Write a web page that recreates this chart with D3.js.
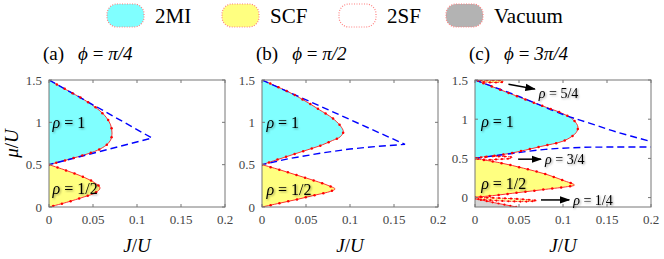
<!DOCTYPE html>
<html>
<head>
<meta charset="utf-8">
<style>
  body { margin: 0; background: #fff; }
</style>
</head>
<body>
<svg id="chart" width="664" height="259"></svg>
<script src="https://cdn.jsdelivr.net/npm/d3@7/dist/d3.min.js"></script>
<script>
// legend entries
const legendNames = ["2MI", "SCF", "2SF", "Vacuum"];
const legendFills = ["#80ffff", "#ffff80", "#ffffff", "#b3b3b3"];

// axes
const xTicks = [0, 0.05, 0.1, 0.15, 0.2];
const yTicks = [0, 0.5, 1, 1.5];
const panelTags = ["(a)", "(b)", "(c)"];
const phiLabels = ["π/4", "π/2", "3π/4"];

// panel (a)  phi = pi/4   points are [J/U, mu/U]
const aMott1 = [[0,1.5],[0.02,1.383],[0.04,1.266],[0.055,1.16],[0.065,1.06],[0.07,0.97],[0.0716,0.875],[0.07,0.79],[0.065,0.73],[0.055,0.67],[0.04,0.615],[0,0.5]];
const aMottHalf = [[0,0.5],[0.02,0.43],[0.04,0.35],[0.052,0.285],[0.058,0.225],[0.053,0.17],[0.04,0.12],[0.02,0.055],[0,0]];
const aMeanField = [[0,1.5],[0.117,0.815],[0,0.5]];

// panel (b)  phi = pi/2
const bMott1 = [[0,1.5],[0.03,1.36],[0.047,1.265],[0.065,1.15],[0.08,1.05],[0.089,0.96],[0.0924,0.89],[0.089,0.83],[0.08,0.785],[0.065,0.72],[0.047,0.66],[0.025,0.585],[0,0.5]];
const bMottHalf = [[0,0.5],[0.02,0.44],[0.04,0.375],[0.06,0.31],[0.075,0.255],[0.083,0.213],[0.078,0.185],[0.06,0.14],[0.04,0.09],[0.02,0.045],[0,0]];
const bMeanField = [[0,1.5],[0.1625,0.74],[0.13,0.715],[0.1,0.685],[0.066,0.635],[0.03,0.57],[0,0.5]];

// panel (c)  phi = 3pi/4
const cMott1 = [[0,1.5],[0.037,1.34],[0.074,1.18],[0.1,1.07],[0.112,0.99],[0.117,0.9],[0.115,0.83],[0.11,0.78],[0.1,0.72],[0.074,0.65],[0.04,0.565],[0,0.5]];
const cMottHalf = [[0,0.5],[0.03,0.44],[0.055,0.375],[0.08,0.3],[0.1,0.22],[0.113,0.16],[0.105,0.14],[0.08,0.105],[0.05,0.065],[0.02,0.025],[0,0.005]];
const cMeanFieldUpper = [[0,1.5],[0.05,1.29],[0.1,1.06],[0.13,0.95],[0.16,0.84],[0.2,0.715]];
const cMeanFieldLower = [[0,0.5],[0.04,0.56],[0.08,0.615],[0.12,0.64],[0.16,0.645],[0.2,0.645]];
const cLobe54 = [[0,1.5],[0.015,1.496],[0.031,1.49],[0.032,1.478],[0.02,1.468],[0.008,1.478],[0,1.5]];
const cLobe34 = [[0,0.5],[0.012,0.522],[0.025,0.526],[0.042,0.513],[0.042,0.505],[0.025,0.488],[0.012,0.482],[0,0.5]];
const cLobe14 = [[0,0.005],[0.03,-0.008],[0.055,-0.022],[0.07,-0.04],[0.06,-0.05],[0.035,-0.045],[0.012,-0.028],[0,-0.015]];
const cVacuum = [[0,-0.015],[0.022,-0.065],[0.047,-0.12]];

// text labels inside the panels: [J, mu, text]
const rhoLabels = [
  [[0.004, 1.0, "1"], [0.004, 0.22, "1/2"]],
  [[0.005, 1.0, "1"], [0.005, 0.21, "1/2"]],
  [[0.007, 0.97, "1"], [0.007, 0.175, "1/2"]]
];
// arrows in panel (c): [J0, mu0, J1, mu1, text]
const cArrows = [
  [0.038, 1.445, 0.068, 1.385, "5/4"],
  [0.049, 0.49, 0.075, 0.49, "3/4"],
  [0.075, -0.03, 0.107, -0.03, "1/4"]
];

const panelLefts = [49, 262, 475];
const panelW = 176, plotTop = 80, plotBottom = 207;
const yDomains = [[0, 1.5], [0, 1.5], [-0.12, 1.5]];
const serif = '"Liberation Serif"';

const svg = d3.select("#chart");
const defs = svg.append("defs");

const shadow = defs.append("filter").attr("id", "shadow")
  .attr("x", "-20%").attr("y", "-40%").attr("width", "140%").attr("height", "180%");
shadow.append("feDropShadow").attr("dx", 1).attr("dy", 1).attr("stdDeviation", 1.2)
  .attr("flood-color", "#000").attr("flood-opacity", 0.4);

defs.append("marker").attr("id", "arrow")
  .attr("viewBox", "0 0 10 10").attr("refX", 9).attr("refY", 5)
  .attr("markerWidth", 7).attr("markerHeight", 7).attr("orient", "auto")
  .append("path").attr("d", "M0,1.5L10,5L0,8.5z").attr("fill", "#000");

// legend
const legend = svg.append("g");
const legendX = [107, 222, 339, 446];
legendNames.forEach((name, i) => {
  legend.append("rect")
    .attr("x", legendX[i]).attr("y", 4).attr("width", 37).attr("height", 23)
    .attr("rx", 10).attr("ry", 10)
    .attr("fill", legendFills[i])
    .attr("stroke", "#ff8080").attr("stroke-width", 1.2)
    .attr("stroke-dasharray", "1,1.5");
  legend.append("text")
    .attr("x", legendX[i] + 48).attr("y", 23)
    .style("font-family", serif).style("font-size", "21px")
    .text(name);
});

const line = d3.line().curve(d3.curveCatmullRom.alpha(0.5));
const straight = d3.line();

function redBoundary(g, d, dashed) {
  const p = g.append("path").attr("d", d)
    .attr("fill", "none").attr("stroke", "#ff3030").attr("stroke-width", 1);
  if (dashed) p.attr("stroke-dasharray", "2,1");
  return p;
}

function dotsAlong(g, pathNode, step, r) {
  const len = pathNode.getTotalLength();
  const pts = d3.range(0, len + 0.5, step).map(l => pathNode.getPointAtLength(Math.min(l, len)));
  g.selectAll(null).data(pts).join("circle")
    .attr("cx", p => p.x).attr("cy", p => p.y).attr("r", r)
    .attr("fill", "#ff0000");
}

function label(parent, size) {
  return parent.append("text").style("font-family", serif).style("font-size", size + "px");
}

panelLefts.forEach((left, i) => {
  const x = d3.scaleLinear().domain([0, 0.2]).range([left, left + panelW]);
  const y = d3.scaleLinear().domain(yDomains[i]).range([plotBottom, plotTop]);
  line.x(d => x(d[0])).y(d => y(d[1]));
  straight.x(d => x(d[0])).y(d => y(d[1]));

  const g = svg.append("g");
  defs.append("clipPath").attr("id", "clip" + i)
    .append("rect").attr("x", left).attr("y", plotTop)
    .attr("width", panelW).attr("height", plotBottom - plotTop);
  const plot = g.append("g").attr("clip-path", `url(#clip${i})`);

  let mott1, half, fieldPaths;
  if (i === 0) { mott1 = aMott1; half = aMottHalf; fieldPaths = [straight(aMeanField)]; }
  if (i === 1) { mott1 = bMott1; half = bMottHalf; fieldPaths = [straight(bMeanField)]; }
  if (i === 2) { mott1 = cMott1; half = cMottHalf; fieldPaths = [line(cMeanFieldUpper), line(cMeanFieldLower)]; }

  // fills
  if (i === 2) {
    plot.append("path")
      .attr("d", straight(cVacuum.concat([[0, -0.12]])) + "Z")
      .attr("fill", "#d6d6d6");
  }
  const mottPath = line(mott1);
  const halfPath = line(half);
  plot.append("path").attr("d", mottPath + "Z").attr("fill", "#80ffff");
  plot.append("path").attr("d", halfPath + "Z").attr("fill", "#ffff80");

  const boundaries = [];
  boundaries.push(redBoundary(plot, mottPath, false));
  boundaries.push(redBoundary(plot, halfPath, false));

  const small = [];
  if (i === 2) {
    plot.append("path").attr("d", line(cLobe54) + "Z").attr("fill", "#ffff80");
    plot.append("path").attr("d", line(cLobe34) + "Z").attr("fill", "#ffffff");
    plot.append("path").attr("d", line(cLobe14) + "Z").attr("fill", "#ffffb0");
    small.push(redBoundary(plot, line(cLobe54), true));
    small.push(redBoundary(plot, line(cLobe34), true));
    small.push(redBoundary(plot, line(cLobe14), true));
    small.push(redBoundary(plot, straight(cVacuum), false));
  }

  // mean-field boundary
  fieldPaths.forEach(d => {
    plot.append("path").attr("d", d)
      .attr("fill", "none").attr("stroke", "#0000ff").attr("stroke-width", 1.4)
      .attr("stroke-dasharray", "7,4");
  });

  boundaries.forEach(p => dotsAlong(plot, p.node(), 9, 1.25));
  small.forEach(p => dotsAlong(plot, p.node(), 6, 1.1));

  // frame
  g.append("rect").attr("x", left).attr("y", plotTop)
    .attr("width", panelW).attr("height", plotBottom - plotTop)
    .attr("fill", "none").attr("stroke", "#777").attr("stroke-width", 1);

  // ticks pointing inward on all sides
  xTicks.forEach(t => {
    g.append("line").attr("x1", x(t)).attr("x2", x(t)).attr("y1", plotBottom).attr("y2", plotBottom - 3)
      .attr("stroke", "#777");
    g.append("line").attr("x1", x(t)).attr("x2", x(t)).attr("y1", plotTop).attr("y2", plotTop + 3)
      .attr("stroke", "#777");
    label(g, 13).attr("x", x(t)).attr("y", plotBottom + 17)
      .attr("text-anchor", "middle").attr("fill", "#444")
      .text(d3.format("~g")(t));
  });
  yTicks.forEach(t => {
    g.append("line").attr("x1", left).attr("x2", left + 3).attr("y1", y(t)).attr("y2", y(t))
      .attr("stroke", "#777");
    g.append("line").attr("x1", left + panelW).attr("x2", left + panelW - 3).attr("y1", y(t)).attr("y2", y(t))
      .attr("stroke", "#777");
    label(g, 13).attr("x", left - 7).attr("y", y(t)).attr("dy", "0.35em")
      .attr("text-anchor", "end").attr("fill", "#444")
      .text(d3.format("~g")(t));
  });

  // rho labels
  rhoLabels[i].forEach(r => {
    const t = label(g, 16).attr("x", x(r[0])).attr("y", y(r[1])).attr("dy", "0.35em")
      .attr("filter", "url(#shadow)");
    t.append("tspan").style("font-style", "italic").text("ρ");
    t.append("tspan").text(" = " + r[2]);
  });

  if (i === 2) {
    cArrows.forEach(a => {
      g.append("line")
        .attr("x1", x(a[0])).attr("y1", y(a[1])).attr("x2", x(a[2])).attr("y2", y(a[3]))
        .attr("stroke", "#000").attr("stroke-width", 1.5)
        .attr("marker-end", "url(#arrow)");
      const t = label(g, 14).attr("x", x(a[2]) + 4).attr("y", y(a[3]) + (a[3] > 1 ? 4 : 0))
        .attr("dy", "0.35em").attr("filter", "url(#shadow)");
      t.append("tspan").style("font-style", "italic").text("ρ");
      t.append("tspan").text(" = " + a[4]);
    });
  }

  // title
  const title = label(svg, 19).attr("x", left - 6).attr("y", 60);
  title.append("tspan").text(panelTags[i]);
  title.append("tspan").attr("dx", 14).style("font-style", "italic").text("ϕ");
  title.append("tspan").text(" = ");
  title.append("tspan").style("font-style", "italic").text(phiLabels[i]);

  // x label
  const xl = label(svg, 19).attr("x", left + panelW / 2).attr("y", 252)
    .attr("text-anchor", "middle");
  xl.append("tspan").style("font-style", "italic").text("J");
  xl.append("tspan").text("/");
  xl.append("tspan").style("font-style", "italic").text("U");
});

// y label
const yl = label(svg, 19)
  .attr("transform", `translate(18,${(plotTop + plotBottom) / 2}) rotate(-90)`)
  .attr("text-anchor", "middle");
yl.append("tspan").style("font-style", "italic").text("μ");
yl.append("tspan").text("/");
yl.append("tspan").style("font-style", "italic").text("U");
</script>
</body>
</html>
